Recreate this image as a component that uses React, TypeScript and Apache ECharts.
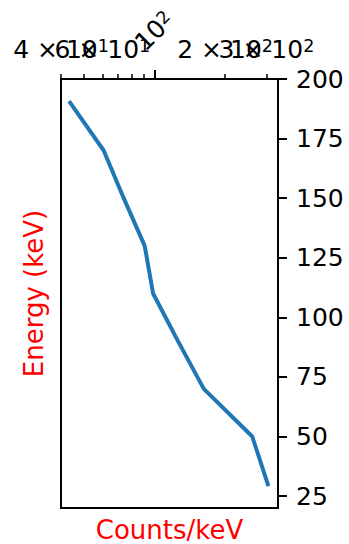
import React, { useEffect, useRef } from "react";
import * as echarts from "echarts";

// Data
const energies = [190, 170, 150, 130, 110, 90, 70, 50, 30];
const counts = [43.8, 60.8, 74, 90.9, 98.7, 126, 162.3, 261, 304];

// Axis ticks and labels
const xMinorTicks = [40, 50, 60, 70, 80, 90, 200, 300];
const xMinorLabelValues = [40, 60, 200, 300];
const xMinorLabelMantissas = ["4", "6", "2", "3"];
const xMinorLabelExponents = ["1", "1", "2", "2"];
const xMajorTicks = [100];
const xMajorLabelExponents = ["2"];
const yTicks = [25, 50, 75, 100, 125, 150, 175, 200];

const X_MIN = 40;
const X_MAX = 336;
const Y_MIN = 20;
const Y_MAX = 200;

const FONT = "DejaVu Sans";

const rich = {
  b: { fontFamily: FONT, fontSize: 25, color: "#000", verticalAlign: "bottom", lineHeight: 25 },
  s: { fontFamily: FONT, fontSize: 17.5, color: "#000", verticalAlign: "top", lineHeight: 17.5 },
};

export default function App() {
  const ref = useRef<HTMLDivElement>(null);
  useEffect(() => {
    if (!ref.current) return;
    const chart = echarts.init(ref.current, null, { renderer: "svg" });

    const baseLogAxis = (position: string) => ({
      type: "log",
      logBase: 10,
      position,
      min: X_MIN,
      max: X_MAX,
      axisLine: { show: false },
      splitLine: { show: false },
      axisTick: { show: false },
      axisLabel: { show: false },
    });

    const labelAxes = xMinorLabelValues.map((v, i) => ({
      ...baseLogAxis("top"),
      axisLabel: {
        show: true,
        customValues: [v],
        showMinLabel: true,
        showMaxLabel: true,
        hideOverlap: false,
        formatter: () =>
          `{b|${xMinorLabelMantissas[i]} × 10}{s|${xMinorLabelExponents[i]}}`,
        rich,
        lineHeight: 34,
        margin: 17,
      },
    }));

    const option: any = {
      animation: false,
      backgroundColor: "#ffffff",
      grid: {
        left: 61,
        top: 79,
        width: 217,
        height: 429,
        outerBoundsMode: "none",
        containLabel: false,
        show: true,
        borderColor: "#000",
        borderWidth: 2,
        backgroundColor: "transparent",
      },
      xAxis: [
        {
          ...baseLogAxis("top"),
          axisTick: {
            show: true,
            customValues: xMinorTicks,
            length: 5,
            lineStyle: { color: "#000", width: 1.5 },
          },
        },
        {
          ...baseLogAxis("top"),
          axisTick: {
            show: true,
            customValues: xMajorTicks,
            length: 9,
            lineStyle: { color: "#000", width: 2 },
          },
          axisLabel: {
            show: true,
            customValues: xMajorTicks,
            formatter: () => `{b|10}{s|${xMajorLabelExponents[0]}}`,
            rich,
            lineHeight: 34,
            rotate: -45,
            align: "center",
            verticalAlign: "middle",
            margin: 48,
            hideOverlap: false,
          },
        },
        ...labelAxes,
        {
          ...baseLogAxis("bottom"),
          name: "Counts/keV",
          nameLocation: "middle",
          nameGap: 9,
          nameTextStyle: {
            color: "#ff0000",
            fontFamily: FONT,
            fontSize: 26,
            verticalAlign: "top",
          },
        },
      ],
      yAxis: [
        {
          type: "value",
          position: "right",
          min: Y_MIN,
          max: Y_MAX,
          axisLine: { show: false },
          splitLine: { show: false },
          axisTick: {
            show: true,
            customValues: yTicks,
            length: 9,
            lineStyle: { color: "#000", width: 2 },
          },
          axisLabel: {
            show: true,
            customValues: yTicks,
            fontFamily: FONT,
            fontSize: 25,
            color: "#000",
            margin: 18,
          },
        },
        {
          type: "value",
          position: "left",
          min: Y_MIN,
          max: Y_MAX,
          axisLine: { show: false },
          axisTick: { show: false },
          axisLabel: { show: false },
          splitLine: { show: false },
          name: "Energy (keV)",
          nameLocation: "middle",
          nameGap: 14,
          nameRotate: 90,
          nameTextStyle: {
            color: "#ff0000",
            fontFamily: FONT,
            fontSize: 26,
          },
        },
      ],
      series: [
        {
          type: "line",
          xAxisIndex: 0,
          yAxisIndex: 0,
          data: counts.map((c, i) => [c, energies[i]]),
          showSymbol: false,
          symbol: "none",
          lineStyle: { color: "#1f77b4", width: 4, cap: "square" },
          itemStyle: { color: "#1f77b4" },
        },
      ],
    };
    chart.setOption(option);
    return () => chart.dispose();
  }, []);
  return (
    <div
      ref={ref}
      style={{ position: "fixed", left: 0, top: 0, width: 349, height: 544 }}
    />
  );
}
